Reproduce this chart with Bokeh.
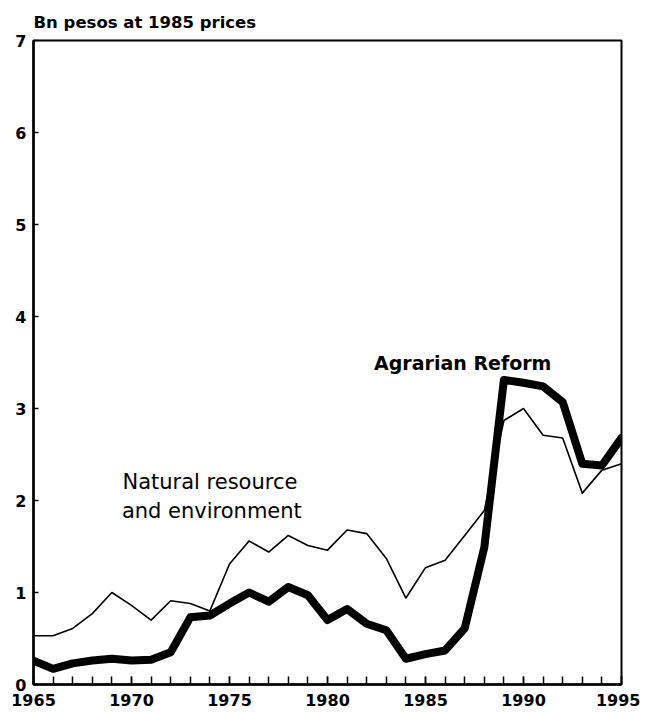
from bokeh.plotting import figure
from bokeh.models import FixedTicker, Label, Range1d
from bokeh.embed import file_html
from bokeh.resources import INLINE

years = list(range(1965, 1996))
natural = [0.53, 0.53, 0.61, 0.77, 1.00, 0.86, 0.70, 0.91, 0.88, 0.80,
           1.31, 1.56, 1.44, 1.62, 1.51, 1.46, 1.68, 1.64, 1.37, 0.94,
           1.27, 1.35, 1.62, 1.89, 2.87, 3.00, 2.71, 2.68, 2.08, 2.33, 2.40]
agrarian = [0.26, 0.17, 0.23, 0.26, 0.28, 0.26, 0.27, 0.35, 0.73, 0.75,
            0.88, 1.00, 0.90, 1.06, 0.97, 0.70, 0.82, 0.66, 0.59, 0.28,
            0.33, 0.37, 0.61, 1.49, 3.31, 3.28, 3.24, 3.07, 2.40, 2.38, 2.68]
x_labels = [1965, 1970, 1975, 1980, 1985, 1990, 1995]
y_labels = [0, 1, 2, 3, 4, 5, 6, 7]
title_text = "Bn pesos at 1985 prices"
label_natural = ["Natural resource", "and environment"]
label_agrarian = "Agrarian Reform"

FONT = "DejaVu Sans"

p = figure(width=640, height=712, output_backend="svg", toolbar_location=None,
           x_range=Range1d(1965, 1995), y_range=Range1d(0, 7),
           min_border_left=33, min_border_right=19, min_border_top=40,
           min_border_bottom=28)
p.background_fill_color = "white"
p.border_fill_color = "white"
p.grid.visible = False
p.outline_line_color = "black"
p.outline_line_width = 2

p.title.text = title_text
p.title.align = "left"
p.title.text_font = FONT
p.title.text_font_style = "bold"
p.title.text_font_size = "16.5px"
p.title.text_color = "black"
p.title.standoff = 18

p.line(years, natural, line_color="black", line_width=1.6, line_join="round")
p.line(years, agrarian, line_color="black", line_width=8, line_join="round", line_cap="round")

p.xaxis.ticker = FixedTicker(ticks=x_labels, minor_ticks=years)
p.yaxis.ticker = FixedTicker(ticks=y_labels)
for ax in (p.xaxis, p.yaxis):
    ax.axis_line_color = "black"
    ax.axis_line_width = 2.5
    ax.major_tick_line_color = "black"
    ax.major_tick_line_width = 1.5
    ax.minor_tick_line_color = "black"
    ax.minor_tick_line_width = 1.5
    ax.major_tick_out = 0
    ax.minor_tick_out = 0
    ax.major_label_text_font = FONT
    ax.major_label_text_font_style = "bold"
    ax.major_label_text_font_size = "16px"
    ax.major_label_text_color = "black"
p.xaxis.major_tick_in = 8
p.xaxis.minor_tick_in = 8
p.xaxis.major_label_standoff = 9
p.yaxis.major_tick_in = 5
p.yaxis.minor_tick_in = 0
p.yaxis.major_label_standoff = 7

p.add_layout(Label(x=1974.0, y=2.2, text=label_natural[0], text_font=FONT,
                   text_font_size="21px", text_color="black",
                   text_align="center", text_baseline="middle"))
p.add_layout(Label(x=1974.1, y=1.89, text=label_natural[1], text_font=FONT,
                   text_font_size="21px", text_color="black",
                   text_align="center", text_baseline="middle"))
p.add_layout(Label(x=1986.9, y=3.5, text=label_agrarian, text_font=FONT,
                   text_font_style="bold", text_font_size="19px", text_color="black",
                   text_align="center", text_baseline="middle"))

open("out.html", "w").write(file_html(p, INLINE))
